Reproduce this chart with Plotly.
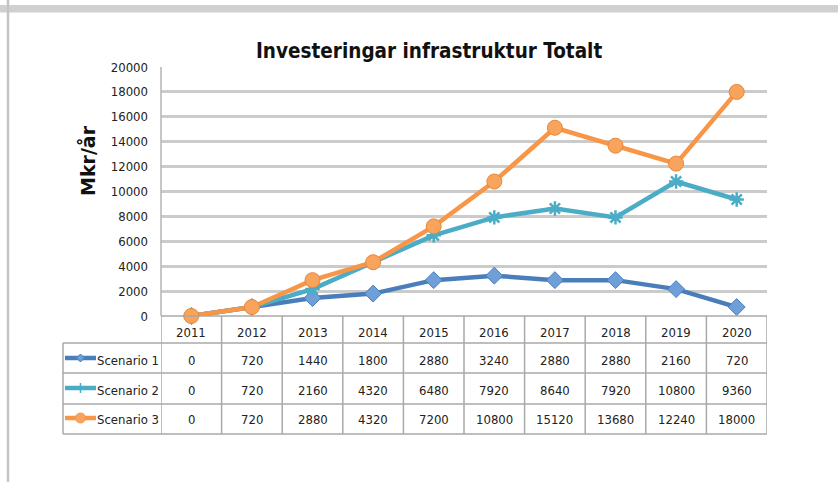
import plotly.graph_objects as go

years = ["2011", "2012", "2013", "2014", "2015", "2016", "2017", "2018", "2019", "2020"]
series_names = ["Scenario 1", "Scenario 2", "Scenario 3"]
scenario1 = [0, 720, 1440, 1800, 2880, 3240, 2880, 2880, 2160, 720]
scenario2 = [0, 720, 2160, 4320, 6480, 7920, 8640, 7920, 10800, 9360]
scenario3 = [0, 720, 2880, 4320, 7200, 10800, 15120, 13680, 12240, 18000]
y_ticks = list(range(0, 20001, 2000))

W, H = 838, 482
L, R, T, B = 161, 767, 67, 316  # plot area in px

def px(x):
    return (x - L) / (R - L)

def py(y):
    return (B - y) / (B - T)

NARROW = "DejaVu Sans Condensed, Liberation Sans Narrow, sans-serif"
GRID = "#cbcbcb"
TBL = "#a9a9a9"

colors = ["#4a7ebb", "#4bacc6", "#f79646"]
data = [scenario1, scenario2, scenario3]
symbols = ["diamond", "asterisk-open", "circle"]
sizes = [13, 12, 15]

fig = go.Figure()
for name, vals, c, sym, sz in zip(series_names, data, colors, symbols, sizes):
    marker = dict(symbol=sym, size=sz, color=c)
    if sym == "asterisk-open":
        marker["line"] = dict(color=c, width=2.5)
    elif sym == "diamond":
        marker["color"] = "#6f9fd8"
        marker["line"] = dict(color="#4a7ebb", width=1)
    else:
        marker["color"] = "#f8a45c"
        marker["line"] = dict(color="#e8883a", width=1)
    fig.add_trace(go.Scatter(x=years, y=vals, name=name, mode="lines+markers",
                             line=dict(color=c, width=4.5), marker=marker,
                             cliponaxis=False, showlegend=False))

shapes = []
annotations = []

# outer frame decorations
shapes.append(dict(type="rect", xref="paper", yref="paper", x0=px(0), x1=px(W), y0=py(5), y1=py(12.5),
                   fillcolor="#d0d0d0", line=dict(width=0), layer="below"))
shapes.append(dict(type="line", xref="paper", yref="paper", x0=px(8), x1=px(8), y0=py(0), y1=py(H),
                   line=dict(color="#c4c4c4", width=2.5)))

# table
row_lines = [343, 373, 404, 434]
shapes.append(dict(type="line", xref="paper", yref="paper", x0=px(L), x1=px(R), y0=py(B), y1=py(B),
                   line=dict(color=TBL, width=1.5)))
for yy in row_lines:
    shapes.append(dict(type="line", xref="paper", yref="paper", x0=px(63), x1=px(R), y0=py(yy), y1=py(yy),
                       line=dict(color=TBL, width=1.5)))
shapes.append(dict(type="line", xref="paper", yref="paper", x0=px(63), x1=px(63), y0=py(343), y1=py(434),
                   line=dict(color=TBL, width=1.5)))
for k in range(len(years) + 1):
    shapes.append(dict(type="line", xref="x", yref="paper", x0=k - 0.5, x1=k - 0.5, y0=py(B), y1=py(434),
                       line=dict(color=TBL, width=1.5)))
# left plot border
shapes.append(dict(type="line", xref="paper", yref="paper", x0=0, x1=0, y0=0, y1=1,
                   line=dict(color="#b5b5b5", width=1.5)))

cell_font = dict(family=NARROW, size=13, color="#222")
for i, yr in enumerate(years):
    annotations.append(dict(x=i, y=py(332), xref="x", yref="paper", text=yr, showarrow=False,
                            xanchor="center", yanchor="middle", font=cell_font))

row_centers = [360, 390, 420]
for name, vals, c, sym, yc in zip(series_names, data, colors, symbols, row_centers):
    for i, v in enumerate(vals):
        annotations.append(dict(x=i, y=py(yc), xref="x", yref="paper", text=str(v), showarrow=False,
                                xanchor="center", yanchor="middle", font=cell_font))
    annotations.append(dict(x=px(95), y=py(yc), xref="paper", yref="paper", text=name, showarrow=False,
                            xanchor="left", yanchor="middle", font=cell_font))
    # legend key line
    shapes.append(dict(type="line", xref="paper", yref="paper", x0=px(65), x1=px(96), y0=py(yc - 2), y1=py(yc - 2),
                       line=dict(color=c, width=4.5)))
    mx, my = 80.5, yc - 2
    if sym == "diamond":
        shapes.append(dict(type="path", xref="paper", yref="paper",
                           path=f"M {px(mx-4)} {py(my)} L {px(mx)} {py(my-4)} L {px(mx+4)} {py(my)} L {px(mx)} {py(my+4)} Z",
                           fillcolor="#6f9fd8", line=dict(color=c, width=1)))
    elif sym == "circle":
        shapes.append(dict(type="circle", xref="paper", yref="paper", x0=px(mx-5), x1=px(mx+5),
                           y0=py(my+5), y1=py(my-5), fillcolor="#f8a45c", line=dict(color=c, width=1)))
    else:
        shapes.append(dict(type="line", xref="paper", yref="paper", x0=px(mx), x1=px(mx), y0=py(my-5), y1=py(my+5),
                           line=dict(color=c, width=1.5)))

# titles
annotations.append(dict(x=px(429), y=py(51), xref="paper", yref="paper", text="<b>Investeringar infrastruktur Totalt</b>",
                        showarrow=False, xanchor="center", yanchor="middle",
                        font=dict(family=NARROW, size=20.5, color="#111")))
annotations.append(dict(x=px(87), y=py(161), xref="paper", yref="paper", text="<b>Mkr/år</b>", textangle=-90,
                        showarrow=False, xanchor="center", yanchor="middle",
                        font=dict(family="DejaVu Sans, sans-serif", size=19, color="#111")))

fig.update_layout(
    width=W, height=H,
    margin=dict(l=L, r=W - R, t=T, b=H - B),
    paper_bgcolor="white", plot_bgcolor="white",
    shapes=shapes, annotations=annotations,
    xaxis=dict(type="category", range=[-0.5, len(years) - 0.5], showticklabels=False, showgrid=False,
               zeroline=False, showline=False, ticks=""),
    yaxis=dict(range=[0, 20000], tickvals=y_ticks, ticktext=[str(v) for v in y_ticks],
               showgrid=True, gridcolor=GRID, gridwidth=2.5, zeroline=False, showline=False, ticks="",
               ticklabelstandoff=12,
               tickfont=dict(family=NARROW, size=13, color="#222")),
)

fig.write_html("out.html", config={"displayModeBar": False},
               post_script="document.body.style.margin='0';document.body.style.padding='0';")
